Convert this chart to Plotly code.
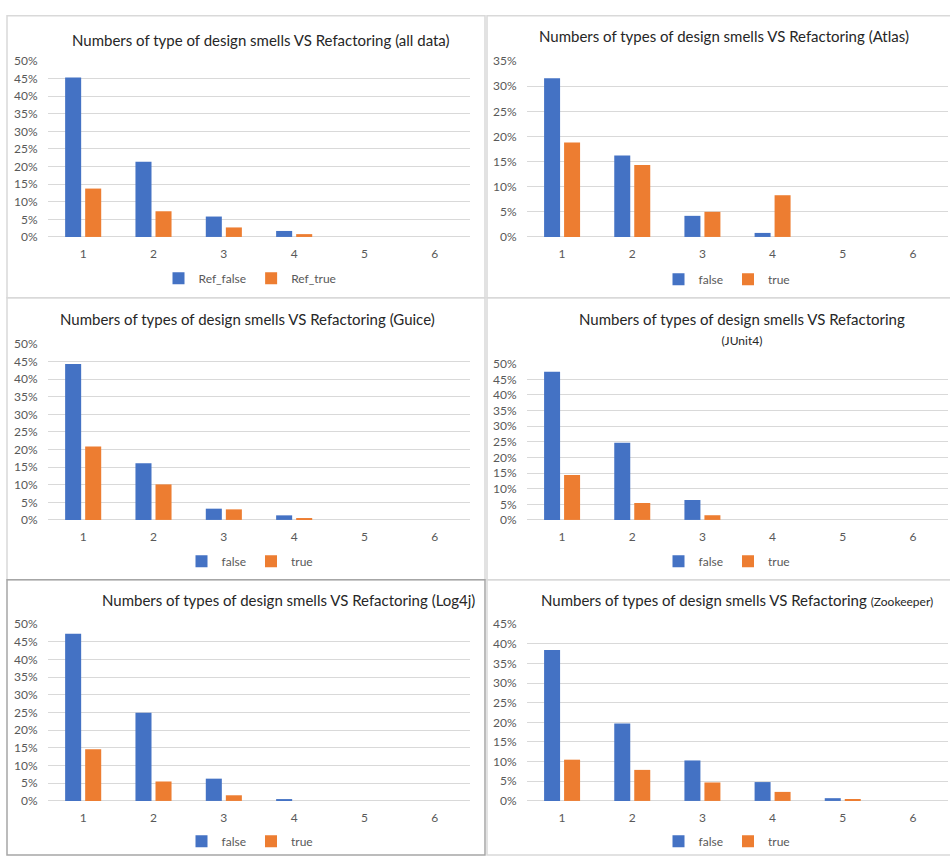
import plotly.graph_objects as go

W, H = 950, 861

categories = ["1", "2", "3", "4", "5", "6"]

all_false = [0.453, 0.214, 0.058, 0.017, 0.0, 0.0]
all_true = [0.1375, 0.073, 0.027, 0.008, 0.0, 0.0]
atlas_false = [0.316, 0.162, 0.042, 0.008, 0.0, 0.0]
atlas_true = [0.188, 0.143, 0.050, 0.083, 0.0, 0.0]
guice_false = [0.443, 0.161, 0.032, 0.013, 0.0, 0.0]
guice_true = [0.209, 0.101, 0.030, 0.005, 0.0, 0.0]
junit_false = [0.474, 0.247, 0.064, 0.0, 0.0, 0.0]
junit_true = [0.144, 0.054, 0.015, 0.0, 0.0, 0.0]
log4j_false = [0.473, 0.249, 0.063, 0.003, 0.0, 0.0]
log4j_true = [0.146, 0.055, 0.016, 0.0, 0.0, 0.0]
zk_false = [0.384, 0.197, 0.103, 0.048, 0.007, 0.0]
zk_true = [0.105, 0.079, 0.047, 0.023, 0.005, 0.0]

BLUE = "#4472C4"
ORANGE = "#ED7D31"
GRID = "#D9D9D9"
TICK = "#595959"
TITLE = "#262626"
FONT = "Lato, 'Noto Sans', sans-serif"

# each panel: series, names, y max, plot box in pixels (x0, x1, y_zero, y_top),
# title lines, title position, legend position, panel frame
panels = [
    dict(f=all_false, t=all_true, names=("Ref_false", "Ref_true"), ymax=0.5,
         box=(48, 470, 233, 54),
         title="Numbers of type of design smells VS Refactoring (all data)",
         tpos=(261, 33), lpos=(250, 275), frame=(7, 8, 485, 295)),
    dict(f=atlas_false, t=atlas_true, names=("false", "true"), ymax=0.35,
         box=(527, 948, 233, 54),
         title="Numbers of types of design smells VS Refactoring (Atlas)",
         tpos=(724, 29), lpos=(727, 276), frame=(487, 8, 952, 295)),
    dict(f=guice_false, t=guice_true, names=("false", "true"), ymax=0.5,
         box=(48, 470, 521, 342),
         title="Numbers of types of design smells VS Refactoring (Guice)",
         tpos=(247, 317), lpos=(250, 563), frame=(7, 295, 485, 582)),
    dict(f=junit_false, t=junit_true, names=("false", "true"), ymax=0.5,
         box=(527, 948, 521, 362),
         title="Numbers of types of design smells VS Refactoring<br><span style='font-size:12px'>(JUnit4)</span>",
         tpos=(742, 327), lpos=(727, 563), frame=(487, 295, 952, 582)),
    dict(f=log4j_false, t=log4j_true, names=("false", "true"), ymax=0.5,
         box=(48, 470, 807, 627),
         title="Numbers of types of design smells VS Refactoring (Log4j)",
         tpos=(288, 603), lpos=(250, 848), frame=(7, 582, 485, 862)),
    dict(f=zk_false, t=zk_true, names=("false", "true"), ymax=0.45,
         box=(527, 948, 807, 627),
         title="Numbers of types of design smells VS Refactoring <span style='font-size:12px'>(Zookeeper)</span>",
         tpos=(737, 603), lpos=(727, 848), frame=(487, 582, 952, 862)),
]


def px(x):
    return x / W


def py(y):
    return 1 - y / H


fig = go.Figure()
layout = dict(
    width=W, height=H, margin=dict(l=0, r=0, t=0, b=0),
    paper_bgcolor="white", plot_bgcolor="white",
    barmode="group", bargap=0.43, bargroupgap=0.2,
    font=dict(family=FONT, color=TICK, size=12),
    annotations=[], shapes=[],
)

for i, p in enumerate(panels, start=1):
    sfx = "" if i == 1 else str(i)
    leg = "legend" + sfx
    x0, x1, yz, yt = p["box"]
    for vals, name, col in ((p["f"], p["names"][0], BLUE), (p["t"], p["names"][1], ORANGE)):
        fig.add_trace(go.Bar(
            x=categories, y=vals, name=name, marker=dict(color=col, line=dict(width=0)),
            xaxis="x" + sfx, yaxis="y" + sfx, legend=leg, hoverinfo="skip",
        ))
    layout["xaxis" + sfx] = dict(
        domain=[px(x0), px(x1)], anchor="y" + sfx, type="category",
        showgrid=False, showline=False, zeroline=False,
        ticks="outside", ticklen=6, tickcolor="rgba(0,0,0,0)",
        tickfont=dict(size=12, color=TICK, family=FONT),
    )
    layout["yaxis" + sfx] = dict(
        domain=[py(yz), py(yt)], anchor="x" + sfx, range=[0, p["ymax"]],
        tick0=0, dtick=0.05, tickformat=".0%",
        showgrid=True, gridcolor=GRID, gridwidth=1,
        zeroline=True, zerolinecolor=GRID, zerolinewidth=1, showline=False,
        ticks="outside", ticklen=7, tickcolor="rgba(0,0,0,0)",
        tickfont=dict(size=12, color=TICK, family=FONT),
    )
    layout[leg] = dict(
        orientation="h", x=px(p["lpos"][0]), y=py(p["lpos"][1]),
        xanchor="center", yanchor="middle", bgcolor="rgba(0,0,0,0)",
        font=dict(size=12, color=TICK, family=FONT),
        itemwidth=30, tracegroupgap=0,
    )
    layout["annotations"].append(dict(
        text=p["title"], x=px(p["tpos"][0]), y=py(p["tpos"][1]),
        xref="paper", yref="paper", xanchor="center", yanchor="middle",
        showarrow=False, font=dict(size=15, color=TITLE, family=FONT),
    ))
    fx0, fy0, fx1, fy1 = p["frame"]
    layout["shapes"].append(dict(
        type="rect", xref="paper", yref="paper",
        x0=px(fx0), x1=px(fx1), y0=py(fy1), y1=py(fy0),
        line=dict(color="#A6A6A6" if i == 5 else GRID, width=1.5),
        fillcolor="rgba(0,0,0,0)", layer="below",
    ))

fig.update_layout(**layout)
fig.write_html("out.html")
